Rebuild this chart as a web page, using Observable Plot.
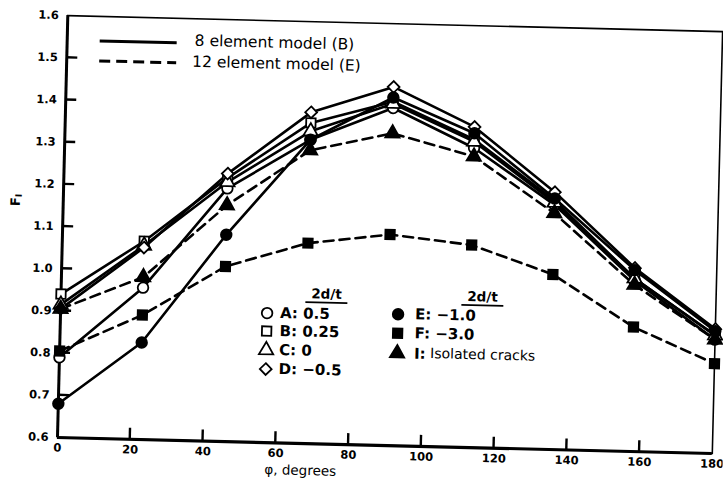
<!DOCTYPE html>
<html>
<head>
<meta charset="utf-8">
<script src="https://cdn.jsdelivr.net/npm/d3@7"></script>
<script src="https://cdn.jsdelivr.net/npm/@observablehq/plot@0.6"></script>
<style>
  html, body { margin: 0; padding: 0; background: #fff; }
  #chart { position: relative; width: 723px; height: 485px; overflow: hidden; }
  #chart svg { transform: rotate(1.4deg); transform-origin: 57px 437px; }
</style>
</head>
<body>
<div id="chart"></div>
<script>
// ---- data ----
const phi = [0, 22.5, 45, 67.5, 90, 112.5, 135, 157.5, 180];
const fA = [0.79, 0.96, 1.20, 1.32, 1.40, 1.31, 1.18, 1.005, 0.87];
const fB = [0.94, 1.07, 1.225, 1.36, 1.415, 1.33, 1.19, 1.01, 0.88];
const fC = [0.915, 1.06, 1.215, 1.34, 1.41, 1.325, 1.185, 1.01, 0.88];
const fD = [0.905, 1.055, 1.235, 1.385, 1.45, 1.36, 1.21, 1.035, 0.895];
const fE = [0.68, 0.83, 1.09, 1.32, 1.425, 1.345, 1.195, 1.03, 0.89];
const fF = [0.805, 0.895, 1.015, 1.075, 1.10, 1.08, 1.015, 0.895, 0.813];
const fI = [0.905, 0.985, 1.16, 1.295, 1.34, 1.29, 1.16, 0.995, 0.87];

const seriesKeys = ["A", "B", "C", "D", "E", "F", "I"];
const seriesValues = [fA, fB, fC, fD, fE, fF, fI];
const seriesLabels = ["A: 0.5", "B: 0.25", "C: 0", "D: \u22120.5", "E: \u22121.0", "F: \u22123.0", "I: Isolated cracks"];
const seriesSymbols = ["circle", "square", "triangle", "diamond2", "circle", "square", "triangle"];
const seriesFills = ["white", "white", "white", "white", "black", "black", "black"];
const seriesDashed = [false, false, false, false, false, true, true];

const modelLabels = ["8 element model (B)", "12 element model (E)"];
const legendHeader = "2d/t";
const xTicks = [0, 20, 40, 60, 80, 100, 120, 140, 160, 180];
const yTicks = [0.6, 0.7, 0.8, 0.9, 1.0, 1.1, 1.2, 1.3, 1.4, 1.5, 1.6];
const xLabel = "\u03c6, degrees";

// ---- table built from the arrays ----
const rows = [];
seriesKeys.forEach((k, i) => {
  phi.forEach((p, j) => rows.push({key: k, phi: p, f: seriesValues[i][j], fill: seriesFills[i], dashed: seriesDashed[i]}));
});
const solidRows = rows.filter(d => !d.dashed);
const dashedRows = rows.filter(d => d.dashed);

const W = 723, H = 485;
const mL = 57, mR = 11, mT = 15, mB = 48;

const chart = Plot.plot({
  width: W, height: H,
  marginLeft: mL, marginRight: mR, marginTop: mT, marginBottom: mB,
  style: {fontFamily: "DejaVu Sans", background: "white", color: "black"},
  x: {domain: [0, 180]},
  y: {domain: [0.6, 1.6]},
  symbol: {domain: seriesKeys, range: seriesSymbols},
  color: {type: "identity"},
  marks: [
    Plot.frame({stroke: "black", strokeWidth: 1.6}),
    Plot.ruleY([0.6], {stroke: "black", strokeWidth: 3.2}),
    Plot.ruleX([0], {stroke: "black", strokeWidth: 3}),
    Plot.axisX({ticks: xTicks, tickSize: 0, tickPadding: 6, fontSize: 11.5, fontWeight: "bold", label: null}),
    Plot.axisY({ticks: yTicks, tickSize: 0, tickPadding: 9, fontSize: 11.5, fontWeight: "bold", tickFormat: d3.format(".1f"), label: null}),
    Plot.line(solidRows, {x: "phi", y: "f", z: "key", stroke: "black", strokeWidth: 2.6}),
    Plot.line(dashedRows, {x: "phi", y: "f", z: "key", stroke: "black", strokeWidth: 2.6, strokeDasharray: "10,6"}),
    Plot.dot(rows, {x: "phi", y: "f", symbol: "key", fill: "fill", stroke: "black", strokeWidth: 1.8, r: 5.3})
  ]
});
document.getElementById("chart").appendChild(chart);

const svg = d3.select(chart);
const sx = chart.scale("x"), sy = chart.scale("y");

// inward tick marks, placed through the chart's own scales
const tg = svg.append("g");
xTicks.slice(1, -1).forEach(v => {
  const px = sx.apply(v), py = sy.apply(0.6);
  tg.append("path").attr("d", `M${px},${py}V${py - 11}`)
    .style("stroke", "black").style("stroke-width", "2.4px").style("fill", "none");
});
yTicks.slice(1, -1).forEach(v => {
  const px = sx.apply(0), py = sy.apply(v);
  tg.append("path").attr("d", `M${px},${py}H${px + 11}`)
    .style("stroke", "black").style("stroke-width", "2.4px").style("fill", "none");
});

// ---- legends and axis titles (pixel layout) ----
const g = svg.append("g").attr("fill", "black").attr("text-anchor", "start").style("font-family", "DejaVu Sans");

// model legend (top-left)
g.append("line").attr("x1", 90).attr("x2", 167).attr("y1", 40).attr("y2", 40)
  .attr("stroke", "black").attr("stroke-width", 3);
g.append("line").attr("x1", 90).attr("x2", 167).attr("y1", 60).attr("y2", 60)
  .attr("stroke", "black").attr("stroke-width", 3).attr("stroke-dasharray", "11,6");
g.append("text").attr("x", 185).attr("y", 38).attr("dominant-baseline", "middle")
  .style("font-size", "15.5px").text(modelLabels[0]);
g.append("text").attr("x", 183).attr("y", 59).attr("dominant-baseline", "middle")
  .style("font-size", "15.5px").text(modelLabels[1]);

// 2d/t legend
const symType = {circle: d3.symbolCircle, square: d3.symbolSquare, triangle: d3.symbolTriangle, diamond2: d3.symbolDiamond2};
const cols = [
  {hx: 323, hy: 288, mx: 264, tx: 277, idx: [0, 1, 2, 3], ys: [308, 326, 345, 364]},
  {hx: 479, hy: 287, mx: 395, tx: 412, idx: [4, 5, 6], ys: [306, 325, 345]}
];
cols.forEach(c => {
  g.append("text").attr("x", c.hx).attr("y", c.hy).attr("text-anchor", "middle")
    .attr("dominant-baseline", "middle").style("font-size", "13.5px").style("font-weight", "bold").text(legendHeader);
  g.append("line").attr("x1", c.hx - 21).attr("x2", c.hx + 21).attr("y1", c.hy + 8).attr("y2", c.hy + 8)
    .attr("stroke", "black").attr("stroke-width", 1.8);
  c.idx.forEach((i, r) => {
    const y = c.ys[r];
    g.append("path")
      .attr("d", d3.symbol().type(symType[seriesSymbols[i]]).size(Math.PI * 5.3 * 5.3)())
      .attr("transform", `translate(${c.mx},${y})`)
      .attr("fill", seriesFills[i]).attr("stroke", "black").attr("stroke-width", 1.8);
    const t = g.append("text").attr("x", c.tx).attr("y", y).attr("dominant-baseline", "middle")
      .attr("text-anchor", "start").style("font-size", "15px");
    const lab = seriesLabels[i];
    const cut = lab.indexOf(":") + 1;
    if (seriesKeys[i] === "I") {
      t.append("tspan").style("font-weight", "bold").text(lab.slice(0, cut));
      t.append("tspan").style("font-size", "14px").text(lab.slice(cut));
    } else {
      t.style("font-weight", "bold").text(lab);
    }
  });
});

// axis titles
const yt = g.append("text").attr("transform", "translate(10,201) rotate(-90)")
  .attr("text-anchor", "middle").attr("dominant-baseline", "middle")
  .style("font-size", "13px").style("font-weight", "bold");
yt.append("tspan").text("F");
yt.append("tspan").attr("dy", 3).style("font-size", "9px").text("I");
g.append("text").attr("x", 301).attr("y", 465).attr("text-anchor", "middle")
  .attr("dominant-baseline", "middle").style("font-size", "13.5px").text(xLabel);
</script>
</body>
</html>
